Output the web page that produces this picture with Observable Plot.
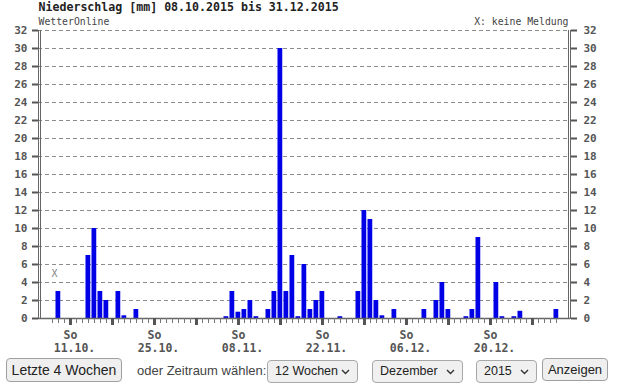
<!DOCTYPE html>
<html><head><meta charset="utf-8">
<script src="https://cdn.jsdelivr.net/npm/d3@7"></script>
<script src="https://cdn.jsdelivr.net/npm/@observablehq/plot@0.6"></script>
<style>
body{margin:0;background:#fff;width:618px;height:385px;overflow:hidden;position:relative;}
#chart{position:absolute;left:0;top:0;}
.ctl{position:absolute;box-sizing:border-box;font-family:"Liberation Sans",Arial,sans-serif;color:#222;}
button.ctl{background:#efefef;border:1px solid #a0a0a0;border-radius:4px;padding:0;text-align:center;color:#222;}
.sel{background:#f0f0f0;border:1px solid #a8a8a8;border-radius:4px;font-size:12.5px;line-height:21px;padding-left:7px;}
.sel svg.chev{position:absolute;right:7px;top:8px;}
.lbl{font-size:13px;color:#444;line-height:23px;}
</style>
</head><body>
<div id="chart"></div>
<script>
// ---- data ----
const titleText = "Niederschlag [mm] 08.10.2015 bis 31.12.2015";
const sourceText = "WetterOnline";
const noteText = "X: keine Meldung";
const missingMark = "X";
const startDate = "2015-10-08";
const endDate = "2015-12-31";
// daily precipitation in mm, 08.10.2015 .. 31.12.2015 (null = keine Meldung)
const precip = [
  null, 3, 0, 0, 0, 0, 7, 10, 3, 2, 0, 3, 0.3, 0, 1,
  0, 0, 0, 0, 0, 0, 0, 0, 0, 0, 0, 0, 0, 0,
  0.2, 3, 0.7, 1, 2, 0.2, 0, 1, 3, 30, 3, 7, 0.2, 6, 1, 2, 3,
  0, 0, 0.2, 0, 0, 3, 12, 11, 2, 0.3, 0, 1,
  0, 0, 0, 0, 1, 0, 2, 4, 1, 0, 0, 0.2, 1, 9,
  0, 0, 4, 0.2, 0, 0.2, 0.8, 0, 0, 0, 0, 0, 1
];
const yTicks = [0, 2, 4, 6, 8, 10, 12, 14, 16, 18, 20, 22, 24, 26, 28, 30, 32];
const sundayDates = ["2015-10-11","2015-10-18","2015-10-25","2015-11-01","2015-11-08","2015-11-15","2015-11-22","2015-11-29","2015-12-06","2015-12-13","2015-12-20","2015-12-27"];
const labelDates = ["2015-10-11","2015-10-25","2015-11-08","2015-11-22","2015-12-06","2015-12-20"];
const weekdayLabel = "So";

// ---- build ----
const start = new Date(startDate + "T00:00Z");
const end = new Date(endDate + "T00:00Z");
const rows = precip.map((v, i) => ({date: d3.utcDay.offset(start, i), value: v}));
const days = rows.map(r => r.date);
const sundays = sundayDates.map(s => new Date(s + "T00:00Z"));
const labels = labelDates.map(s => new Date(s + "T00:00Z"));
const fmtDate = d3.utcFormat("%d.%m.");
const mono = "'DejaVu Sans Mono', monospace";
const halfBar = 9.5; // hours

const chart = Plot.plot({
  width: 618,
  height: 356,
  marginTop: 30,
  marginBottom: 38,
  marginLeft: 38,
  marginRight: 48,
  style: {background: "#fff", color: "#555", fontFamily: mono, overflow: "visible"},
  x: {type: "utc", domain: [d3.utcHour.offset(start, -56), d3.utcHour.offset(end, 56)], axis: null},
  y: {domain: [0, 32], axis: null},
  marks: [
    Plot.gridY(yTicks.filter(t => t > 0), {stroke: "#8c8c8c", strokeOpacity: 1, strokeDasharray: "4,3"}),
    Plot.rectY(rows.filter(r => r.value > 0), {
      x1: r => d3.utcHour.offset(r.date, -halfBar),
      x2: r => d3.utcHour.offset(r.date, halfBar),
      y: "value", fill: "#0000e6"
    }),
    Plot.text(rows.filter(r => r.value == null), {x: "date", frameAnchor: "bottom", dy: -42, dx: 2, text: () => missingMark, fill: "#888", fontSize: 10, fontFamily: mono}),
    Plot.ruleY([0], {stroke: "#666", strokeWidth: 1.5}),
    Plot.frame({anchor: "left", stroke: "#666", dx: 0}),
    Plot.frame({anchor: "left", stroke: "#666", dx: 2}),
    Plot.frame({anchor: "right", stroke: "#666", dx: 0}),
    Plot.frame({anchor: "right", stroke: "#666", dx: -2}),
    Plot.axisY(yTicks, {anchor: "left", tickSize: 6, tickPadding: 5, strokeWidth: 2, stroke: "#555", fill: "#555", fontSize: 11, fontWeight: "bold", fontFamily: mono, label: null}),
    Plot.axisY(yTicks, {anchor: "right", tickSize: 6, tickPadding: 7, strokeWidth: 2, stroke: "#555", fill: "#555", fontSize: 11, fontWeight: "bold", fontFamily: mono, label: null}),
    Plot.axisX(days, {anchor: "bottom", tickSize: 5, tickFormat: () => "", stroke: "#777", label: null}),
    Plot.axisX(sundays, {anchor: "bottom", tickSize: 7, strokeWidth: 3, tickFormat: () => "", stroke: "#555", label: null}),
    Plot.text(labels, {x: d => d, frameAnchor: "bottom", text: () => weekdayLabel, lineAnchor: "top", dy: 12.7, fontSize: 11.5, fontWeight: "bold", fontFamily: mono, fill: "#555"}),
    Plot.text(labels, {x: d => d, frameAnchor: "bottom", text: d => fmtDate(d), lineAnchor: "top", dy: 25.7, dx: 4, fontSize: 11.5, fontWeight: "bold", fontFamily: mono, fill: "#555"}),
    Plot.text([titleText], {frameAnchor: "top-left", text: d => d, textAnchor: "start", lineAnchor: "middle", dy: -23.5, dx: 0, fontSize: 11.6, fontWeight: "bold", fontFamily: mono, fill: "#222"}),
    Plot.text([sourceText], {frameAnchor: "top-left", text: d => d, textAnchor: "start", lineAnchor: "middle", dy: -9, dx: 0, fontSize: 9.8, fontFamily: mono, fill: "#444"}),
    Plot.text([noteText], {frameAnchor: "top-right", text: d => d, textAnchor: "end", lineAnchor: "middle", dy: -9, dx: -2, fontSize: 9.8, fontFamily: mono, fill: "#444"})
  ]
});
document.getElementById("chart").append(chart);
</script>
<button class="ctl" style="left:6px;top:358px;width:116px;height:24px;font-size:14px;">Letzte 4 Wochen</button>
<div class="ctl lbl" style="left:137px;top:359px;">oder Zeitraum wählen:</div>
<div class="ctl sel" style="left:267px;top:360px;width:91px;height:23px;">12 Wochen<svg class="chev" width="9" height="6"><polyline points="1,1 4.5,4.5 8,1" fill="none" stroke="#333" stroke-width="1.4"/></svg></div>
<div class="ctl sel" style="left:372px;top:360px;width:91px;height:23px;">Dezember<svg class="chev" width="9" height="6"><polyline points="1,1 4.5,4.5 8,1" fill="none" stroke="#333" stroke-width="1.4"/></svg></div>
<div class="ctl sel" style="left:476px;top:360px;width:61px;height:23px;">2015<svg class="chev" width="9" height="6"><polyline points="1,1 4.5,4.5 8,1" fill="none" stroke="#333" stroke-width="1.4"/></svg></div>
<button class="ctl" style="left:542px;top:358px;width:66px;height:23px;font-size:13px;">Anzeigen</button>
</body></html>
